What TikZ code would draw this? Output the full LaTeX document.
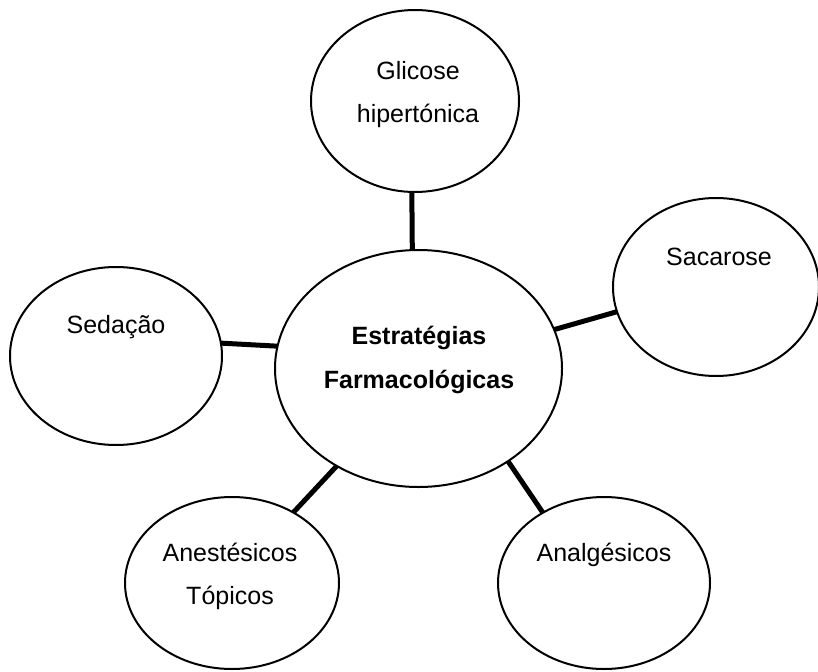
\documentclass[tikz,border=0pt]{standalone}
\usepackage{fontspec}
\setmainfont{Liberation Sans}
\usetikzlibrary{shapes.geometric}
\begin{document}
\begin{tikzpicture}[x=1pt,y=-1pt,
  bubble/.style={ellipse,draw=black,line width=2pt,inner sep=0pt,outer sep=0pt},
  caption/.style={align=center,inner sep=0pt,font=\fontsize{25}{43}\selectfont},
  link/.style={line width=5pt}]
  \useasboundingbox (0,0) rectangle (818,671);
  \fill[white] (0,0) rectangle (818,671);

  % bubbles
  \node[bubble,minimum width=287pt,minimum height=237pt] (hub) at (418.5,368.5) {};
  \node[bubble,minimum width=208pt,minimum height=182pt] (glic) at (415,101) {};
  \node[bubble,minimum width=206pt,minimum height=178pt] (sac) at (716,287) {};
  \node[bubble,minimum width=212pt,minimum height=178pt] (sed) at (116,356) {};
  \node[bubble,minimum width=214pt,minimum height=172pt] (anest) at (232,583) {};
  \node[bubble,minimum width=212pt,minimum height=172pt] (analg) at (604,583) {};

  % captions
  \node[caption,font=\fontsize{25}{44}\selectfont\bfseries] (thub) at (419,360) {Estratégias\\Farmacológicas};
  \node[caption] (tglic) at (418,95) {Glicose\\hipertónica};
  \node[caption] (tsac) at (719,257) {Sacarose};
  \node[caption] (tsed) at (116,327) {Sedação};
  \node[caption] (tanest) at (230,576) {Anestésicos\\Tópicos};
  \node[caption] (tanalg) at (604,555) {Analgésicos};

  % spokes
  \draw[link] (glic.268.7) -- (hub.93.6);
  \draw[link] (sac.194.2) -- (hub.16.9);
  \draw[link] (sed.7.9) -- (hub.171.3);
  \draw[link] (anest.49.3) -- (hub.230.4);
  \draw[link] (analg.131.1) -- (hub.314);
\end{tikzpicture}
\end{document}
